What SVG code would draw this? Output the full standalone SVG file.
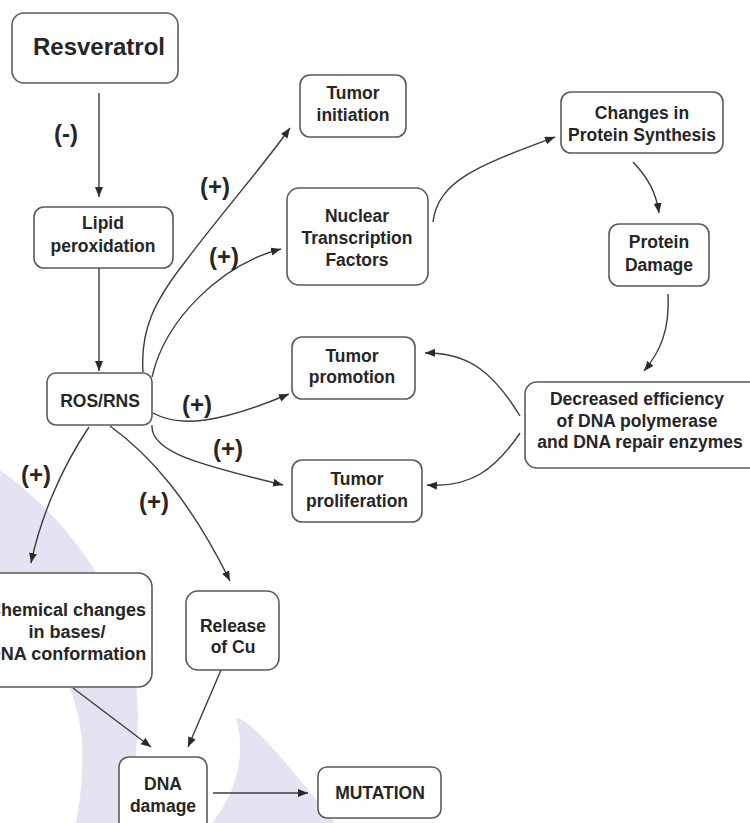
<svg xmlns="http://www.w3.org/2000/svg" width="750" height="823" viewBox="0 0 750 823">
<defs>
<style>
.box{fill:#ffffff;stroke:#5a5a5a;stroke-width:1.6}
.t{font-family:"Liberation Sans",Arial,sans-serif;font-weight:bold;font-size:17.5px;fill:#262626;text-anchor:middle}
.big{font-size:24px}
.sign{font-family:"Liberation Sans",Arial,sans-serif;font-weight:bold;font-size:24px;fill:#262626;text-anchor:middle}
.c{fill:none;stroke:#3c3c3c;stroke-width:1.4;marker-end:url(#ah)}
.wm{fill:#e7e2f1}
</style>
<marker id="ah" markerUnits="userSpaceOnUse" markerWidth="11" markerHeight="9" refX="10" refY="4" orient="auto">
<path d="M0,0 L10,4 L0,8 z" fill="#2a2a2a"/>
</marker>
</defs>
<rect width="750" height="823" fill="#ffffff"/>
<g id="watermark">
<path class="wm" d="M0,470 C70,520 140,610 138,720 C137,760 130,800 124,823 L76,823 C82,790 86,750 78,715 C65,660 35,615 0,588 Z"/>
<path class="wm" d="M236,718 C250,716 300,780 335,823 L212,823 C238,790 246,752 236,718 Z"/>
</g>
<g id="connectors">
<path class="c" d="M99,93 L99,197"/>
<path class="c" d="M99,268 L99,371"/>
<path class="c" d="M143,372 C140,330 155,300 185,262 C220,215 260,170 290,128"/>
<path class="c" d="M152,377 C165,320 220,265 281,249"/>
<path class="c" d="M153,413 C180,428 220,423 289,394"/>
<path class="c" d="M152,425 C150,452 200,465 283,485"/>
<path class="c" d="M89,427 C60,470 40,520 31,563"/>
<path class="c" d="M110,426 C150,455 190,500 230,581"/>
<path class="c" d="M433,222 C438,180 480,165 555,137"/>
<path class="c" d="M633,162 C648,178 656,192 659,213"/>
<path class="c" d="M668,294 C670,330 660,352 644,371"/>
<path class="c" d="M520,416 C495,375 470,352 425,353"/>
<path class="c" d="M520,433 C495,470 470,488 427,485"/>
<path class="c" d="M73,688 L151,747"/>
<path class="c" d="M221,670 L188,747"/>
<path class="c" d="M213,793 L308,793"/>
<text class="sign" x="66" y="142">(-)</text>
<text class="sign" x="215" y="195">(+)</text>
<text class="sign" x="224" y="265">(+)</text>
<text class="sign" x="197" y="413">(+)</text>
<text class="sign" x="228" y="457">(+)</text>
<text class="sign" x="36" y="483">(+)</text>
<text class="sign" x="154" y="510">(+)</text>
</g>
<g id="resveratrol">
<rect class="box" x="12" y="13" width="166" height="70" rx="12"/>
<text class="t big" x="99" y="55">Resveratrol</text>
</g>
<g id="lipid">
<rect class="box" x="34" y="207" width="139" height="61" rx="10"/>
<text class="t" x="103" y="229">Lipid</text>
<text class="t" x="103" y="252">peroxidation</text>
</g>
<g id="ros">
<rect class="box" x="47" y="373" width="105" height="52" rx="9"/>
<text class="t" x="100" y="407">ROS/RNS</text>
</g>
<g id="tumor-initiation">
<rect class="box" x="300" y="75" width="106" height="62" rx="10"/>
<text class="t" x="353" y="99">Tumor</text>
<text class="t" x="353" y="121">initiation</text>
</g>
<g id="nuclear">
<rect class="box" x="287" y="188" width="141" height="97" rx="12"/>
<text class="t" x="357" y="222">Nuclear</text>
<text class="t" x="357" y="244">Transcription</text>
<text class="t" x="357" y="266">Factors</text>
</g>
<g id="changes">
<rect class="box" x="561" y="92" width="162" height="61" rx="10"/>
<text class="t" x="642" y="119">Changes in</text>
<text class="t" x="642" y="141">Protein Synthesis</text>
</g>
<g id="protein-damage">
<rect class="box" x="609" y="224" width="100" height="62" rx="10"/>
<text class="t" x="659" y="248">Protein</text>
<text class="t" x="659" y="271">Damage</text>
</g>
<g id="tumor-promotion">
<rect class="box" x="292" y="337" width="123" height="62" rx="10"/>
<text class="t" x="352" y="362">Tumor</text>
<text class="t" x="352" y="383">promotion</text>
</g>
<g id="tumor-proliferation">
<rect class="box" x="292" y="460" width="130" height="62" rx="10"/>
<text class="t" x="357" y="485">Tumor</text>
<text class="t" x="357" y="507">proliferation</text>
</g>
<g id="decreased">
<rect class="box" x="525" y="382" width="240" height="86" rx="12"/>
<text class="t" x="637" y="405">Decreased efficiency</text>
<text class="t" x="637" y="427">of DNA polymerase</text>
<text class="t" x="640" y="448">and DNA repair enzymes</text>
</g>
<g id="chemical">
<rect class="box" x="-20" y="573" width="172" height="114" rx="14"/>
<text class="t" x="67" y="616" style="font-size:18px">Chemical changes</text>
<text class="t" x="67" y="638" style="font-size:18px">in bases/</text>
<text class="t" x="67" y="660" style="font-size:18px">DNA conformation</text>
</g>
<g id="release-cu">
<rect class="box" x="186" y="591" width="93" height="79" rx="12"/>
<text class="t" x="233" y="632">Release</text>
<text class="t" x="233" y="653">of Cu</text>
</g>
<g id="dna-damage">
<rect class="box" x="119" y="757" width="88" height="80" rx="10"/>
<text class="t" x="163" y="790">DNA</text>
<text class="t" x="163" y="812">damage</text>
</g>
<g id="mutation">
<rect class="box" x="318" y="767" width="123" height="51" rx="9"/>
<text class="t" x="380" y="799">MUTATION</text>
</g>
</svg>
